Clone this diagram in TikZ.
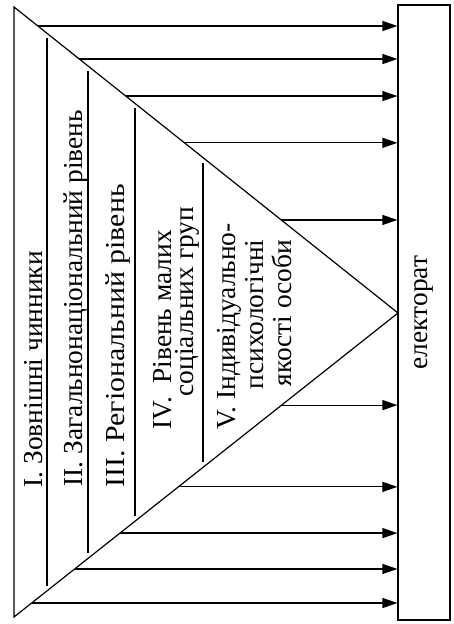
\documentclass[tikz,border=0pt]{standalone}
\usepackage{fontspec}
\setmainfont{Liberation Serif}
\usetikzlibrary{arrows.meta,calc}
\begin{document}
\begin{tikzpicture}[x=1bp,y=1bp,
  line width=1.2bp,
  conn/.style={-{Triangle[length=15bp,width=10bp]}},
  vtext/.style={rotate=90,anchor=base west,inner sep=0pt,font=\fontsize{27.5}{30}\selectfont},
  elbox/.style={draw,minimum width=52bp,minimum height=615bp,inner sep=0pt}]
\useasboundingbox (0,0) rectangle (454,624);
% triangle corners
\coordinate (T1) at (14,617);
\coordinate (T2) at (14,7);
\coordinate (A) at (398,311);
\draw (T1) -- (A) -- (T2) -- cycle;
% electorate box
\node[elbox] (el) at (424,311.5) {};
\node[rotate=90,inner sep=0pt,font=\fontsize{27.5}{30}\selectfont] (elt) at (el.center) {електорат};
% dividers
\draw (47,586) -- (47,38);
\draw (88,553) -- (88,71);
\draw (135,515.6) -- (135,108);
\draw (203,461) -- (203,162);
% arrows from upper side
\foreach \t [count=\i] in {0.0621,0.170,0.291,0.444,0.696}{
  \coordinate (u\i) at ($(T1)!\t!(A)$);
  \draw[conn] (u\i) -- (u\i -| el.west);
}
% arrows from lower side
\foreach \t [count=\i] in {0.697,0.428,0.276,0.158,0.046}{
  \coordinate (d\i) at ($(T2)!\t!(A)$);
  \draw[conn] (d\i) -- (d\i -| el.west);
}
% texts
\node[vtext] (c1) at (42,136) {I. Зовнішні чинники};
\node[vtext] (c2) at (82,137) {II. Загальнонаціональний рівень};
\node[vtext] (c3) at (124,136) {\scalebox{1.09}[1]{III.\ Регіональний рівень}};
\node[vtext] (c4a) at (171,194) {IV.\ \ Рівень малих};
\node[vtext] (c4b) at (193,227) {соціальних груп};
\node[vtext] (c5a) at (235,194) {V. Індивідуально-};
\node[vtext] (c5b) at (263,234) {психологічні};
\node[vtext] (c5c) at (291,237) {якості особи};
\end{tikzpicture}
\end{document}
